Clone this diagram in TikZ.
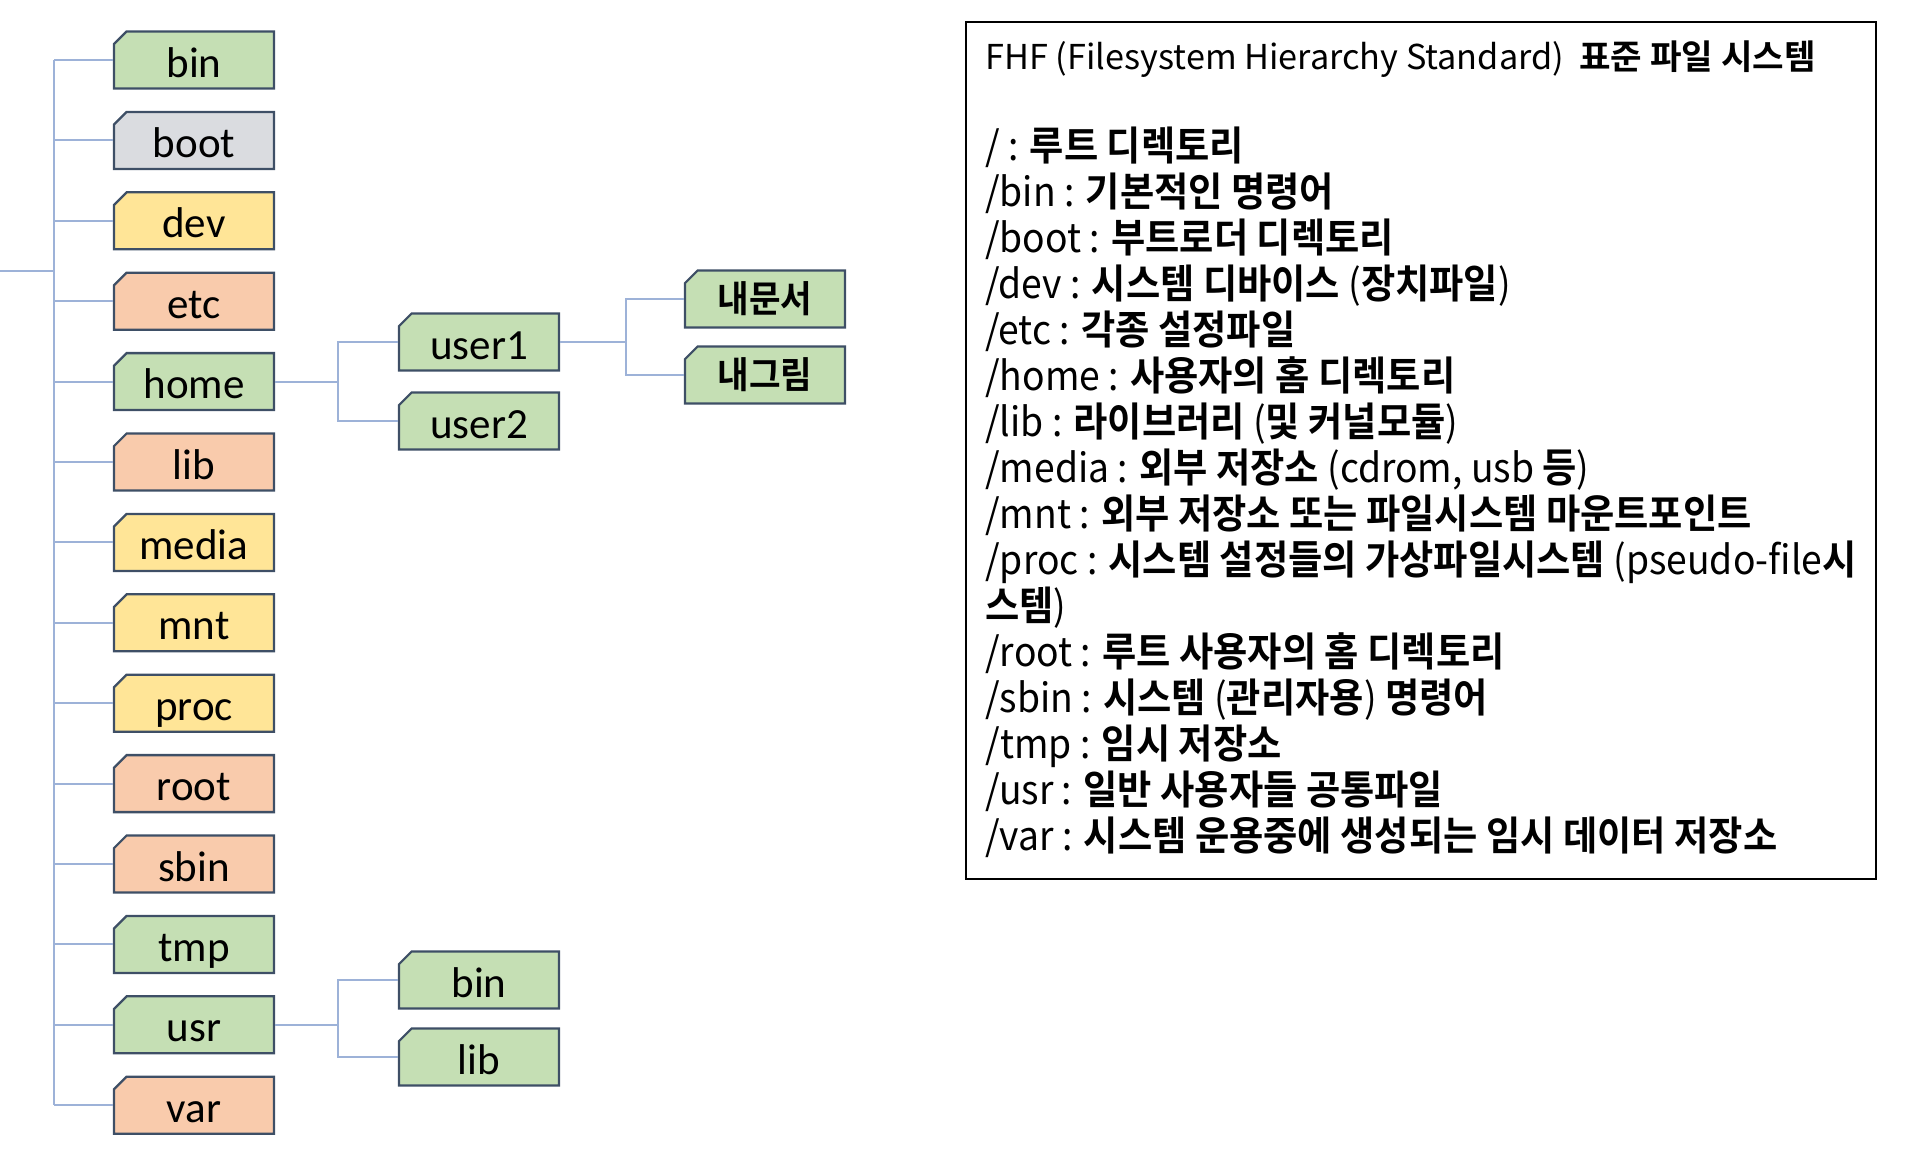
\documentclass[tikz,border=0pt]{standalone}
\usepackage{fontspec}
\setmainfont{Carlito}
\newfontfamily\kr[FakeStretch=0.93,BoldFont={Noto Sans CJK KR Bold}]{Noto Sans CJK KR}
\newfontfamily\krwide[BoldFont={Noto Sans CJK KR Bold}]{Noto Sans CJK KR}
\usetikzlibrary{shapes.misc}
\definecolor{dirgreen}{HTML}{C5DFB4}
\definecolor{dirgray}{HTML}{DADCE0}
\definecolor{diryellow}{HTML}{FFE597}
\definecolor{dirorange}{HTML}{F9CBAC}
\definecolor{dirline}{HTML}{3E4F66}
\definecolor{treeline}{HTML}{9DB2D8}
\begin{document}
\begin{tikzpicture}[x=0.02cm, y=-0.02cm,
        dir/.style={chamfered rectangle, chamfered rectangle corners=north west, chamfered rectangle xsep=0.14cm, draw=dirline, line width=1.3pt, fill=#1, minimum width=3.2cm, minimum height=1.14cm, inner sep=0pt, text height=19.5pt, text depth=0pt, font=\fontsize{24.5}{28}\selectfont},
        kdir/.style={dir=#1, text height=16.8pt, text depth=1.3pt, font=\kr\bfseries\fontsize{21}{26}\selectfont},
        branch/.style={draw=treeline, line width=1.1pt},
        desc/.style={anchor=base west, inner sep=0pt, font=\kr\fontsize{22.8}{26}\selectfont}
    ]
        \useasboundingbox (0,0) rectangle (1930,1160);

        \foreach \d/\c [count=\i from 0] in {bin/dirgreen, boot/dirgray, dev/diryellow, etc/dirorange, home/dirgreen, lib/dirorange, media/diryellow, mnt/diryellow, proc/diryellow, root/dirorange, sbin/dirorange, tmp/dirgreen, usr/dirgreen, var/dirorange}
            \node[dir=\c] (\d) at (194,60+80.4*\i) {\d};

        \coordinate (top) at (0,271);
        \coordinate (hub) at (54,271);
        \draw[branch] (top) -- (hub);
        \draw[branch] (hub |- bin.west) -- (hub |- var.west);
        \foreach \d in {bin, boot, dev, etc, home, lib, media, mnt, proc, root, sbin, tmp, usr, var}
            \draw[branch] (hub |- \d.west) -- (\d.west);

        \node[dir=dirgreen] (user1) at (479,342) {user1};
        \node[dir=dirgreen] (user2) at (479,421) {user2};
        \node[kdir=dirgreen] (docs) at (765,299) {내문서};
        \node[kdir=dirgreen] (pics) at (765,375) {내그림};
        \node[dir=dirgreen] (usrbin) at (479,980) {bin};
        \node[dir=dirgreen] (usrlib) at (479,1057) {lib};

        \path (home.east) ++(63,0) coordinate (homehub);
        \path (user1.east) ++(66,0) coordinate (userhub);
        \path (usr.east) ++(63,0) coordinate (usrhub);
        \draw[branch] (home.east) -- (homehub);
        \draw[branch] (user1.west) -| (homehub) |- (user2.west);
        \draw[branch] (user1.east) -- (userhub);
        \draw[branch] (docs.west) -| (userhub) |- (pics.west);
        \draw[branch] (usr.east) -- (usrhub);
        \draw[branch] (usrbin.west) -| (usrhub) |- (usrlib.west);

        \node[draw=black, line width=1.2pt, anchor=north west, minimum width=18.2cm, minimum height=17.14cm, inner sep=0pt] (fhs) at (965,21) {};
        \node[desc, font=\krwide\fontsize{19.5}{23}\selectfont] (title) at (985,69) {FHF (Filesystem Hierarchy Standard)~~\textbf{표준 파일 시스템}};
        \foreach \t [count=\i from 0] in {
            {/ : \textbf{루트 디렉토리}},
            {/bin : \textbf{기본적인 명령어}},
            {/boot : \textbf{부트로더 디렉토리}},
            {/dev : \textbf{시스템 디바이스} (\textbf{장치파일})},
            {/etc : \textbf{각종 설정파일}},
            {/home : \textbf{사용자의 홈 디렉토리}},
            {/lib : \textbf{라이브러리} (\textbf{및 커널모듈})},
            {/media : \textbf{외부 저장소} (cdrom, usb \textbf{등})},
            {/mnt : \textbf{외부 저장소 또는 파일시스템 마운트포인트}},
            {/proc : \textbf{시스템 설정들의 가상파일시스템} (pseudo-file\textbf{시}},
            {\textbf{스템})},
            {/root : \textbf{루트 사용자의 홈 디렉토리}},
            {/sbin : \textbf{시스템} (\textbf{관리자용}) \textbf{명령어}},
            {/tmp : \textbf{임시 저장소}},
            {/usr : \textbf{일반 사용자들 공통파일}},
            {/var : \textbf{시스템 운용중에 생성되는 임시 데이터 저장소}}}
            \node[desc] (line\i) at (985,160+46*\i) {\t};
    \end{tikzpicture}
\end{document}
